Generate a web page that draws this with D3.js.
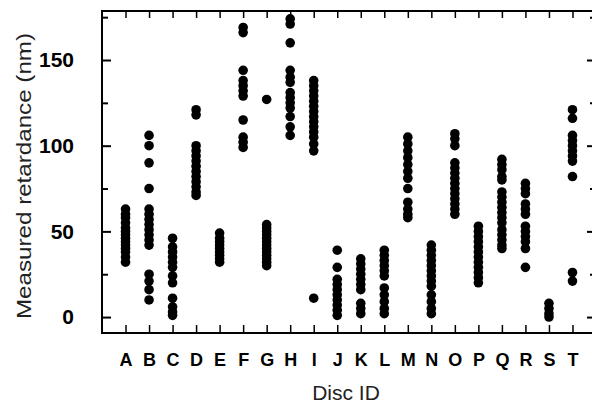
<!DOCTYPE html>
<html>
<head>
<meta charset="utf-8">
<script src="https://cdn.jsdelivr.net/npm/d3@7"></script>
<style>
  body { margin: 0; background: #fff; }
  svg { display: block; font-family: "Liberation Sans", Arial, sans-serif; }
</style>
</head>
<body>
<div id="chart"></div>
<script>
// Disc identifiers (x axis)
const discIds = ["A","B","C","D","E","F","G","H","I","J","K","L","M","N","O","P","Q","R","S","T"];

// Measured retardance (nm) per disc, same order as discIds
const retardanceByDisc = [
  [63, 60, 58, 55, 52, 50, 48, 46, 44, 42, 40, 38, 35, 32],                       // A
  [106, 100, 90, 75, 63, 60, 57, 54, 51, 48, 45, 42, 25, 21, 16, 10],              // B
  [46, 41, 38, 35, 32, 29, 24, 20, 11, 6, 3, 1],                                   // C
  [121, 118, 100, 97, 94, 91, 88, 85, 82, 79, 76, 73, 71],                         // D
  [49, 46, 44, 42, 40, 38, 36, 34, 32],                                            // E
  [169, 166, 144, 138, 135, 132, 129, 115, 105, 102, 99],                          // F
  [127, 54, 52, 50, 48, 46, 44, 42, 40, 38, 36, 34, 32, 30],                       // G
  [174, 171, 160, 144, 140, 137, 131, 128, 125, 122, 117, 111, 106],               // H
  [138, 135, 132, 129, 126, 123, 120, 117, 114, 111, 108, 105, 101, 97, 11],       // I
  [39, 29, 22, 19, 16, 13, 10, 7, 4, 1],                                           // J
  [34, 31, 28, 25, 22, 19, 16, 8, 5, 2],                                           // K
  [39, 36, 33, 30, 27, 24, 17, 13, 9, 5, 2],                                       // L
  [105, 101, 97, 93, 89, 85, 81, 75, 67, 63, 60, 58],                              // M
  [42, 39, 36, 33, 30, 27, 24, 21, 18, 13, 9, 5, 2],                               // N
  [107, 104, 100, 90, 87, 84, 81, 78, 75, 72, 69, 66, 63, 60],                     // O
  [53, 50, 47, 44, 41, 38, 35, 32, 29, 26, 23, 20],                                // P
  [92, 89, 86, 82, 80, 73, 70, 67, 64, 61, 58, 55, 51, 48, 45, 42, 40],            // Q
  [78, 75, 72, 66, 63, 60, 53, 50, 47, 44, 40, 29],                                // R
  [8, 5, 2, 0],                                                                    // S
  [121, 116, 106, 103, 100, 97, 94, 91, 82, 26, 21]                                // T
];

// Axis ticks
const yMajorTicks = [0, 50, 100, 150];
const yMinorTicks = [25, 75, 125, 175];
const yDomain = [-9.3, 178.6];

function drawChart() {
  const width = 592, height = 404;
  const left = 102, right = 596, top = 11, bottom = 333;

  const svg = d3.select("#chart").append("svg")
    .attr("width", width)
    .attr("height", height);

  const x = d3.scalePoint().domain(discIds).range([left, right]).padding(1);
  const y = d3.scaleLinear().domain(yDomain).range([bottom, top]);

  // flatten to points
  const points = [];
  discIds.forEach((id, i) => {
    retardanceByDisc[i].forEach(v => points.push({ id: id, value: v }));
  });

  // points
  svg.append("g").selectAll("circle")
    .data(points)
    .enter().append("circle")
    .attr("cx", d => x(d.id))
    .attr("cy", d => y(d.value))
    .attr("r", 4.8)
    .attr("fill", "#000");

  // frame
  svg.append("rect")
    .attr("x", left).attr("y", top)
    .attr("width", right - left).attr("height", bottom - top)
    .attr("fill", "none").attr("stroke", "#000").attr("stroke-width", 2);

  // bottom axis (ticks inward, labels)
  const xBottom = d3.axisBottom(x).tickSizeInner(-8).tickSizeOuter(0).tickPadding(20);
  const gxb = svg.append("g").attr("transform", `translate(0,${bottom})`).call(xBottom);
  gxb.select(".domain").remove();
  gxb.selectAll("line").attr("stroke-width", 1.5);
  gxb.selectAll("text")
    .attr("font-size", 18).attr("font-weight", "bold")
    .attr("fill", "#000")
    .attr("font-family", "Liberation Sans, Arial, sans-serif");

  // top axis (ticks inward, no labels)
  const xTop = d3.axisTop(x).tickSizeInner(-7).tickSizeOuter(0).tickFormat("");
  const gxt = svg.append("g").attr("transform", `translate(0,${top})`).call(xTop);
  gxt.select(".domain").remove();
  gxt.selectAll("line").attr("stroke-width", 1.5);

  // left axis major
  const yLeft = d3.axisLeft(y).tickValues(yMajorTicks).tickSizeInner(-9).tickSizeOuter(0).tickPadding(28);
  const gyl = svg.append("g").attr("transform", `translate(${left},0)`).call(yLeft);
  gyl.select(".domain").remove();
  gyl.selectAll("line").attr("stroke-width", 2);
  gyl.selectAll("text")
    .attr("font-size", 21).attr("font-weight", "bold")
    .attr("fill", "#000")
    .attr("font-family", "Liberation Sans, Arial, sans-serif");

  // left axis minor
  const yLeftMinor = d3.axisLeft(y).tickValues(yMinorTicks).tickSizeInner(-6).tickSizeOuter(0).tickFormat("");
  const gylm = svg.append("g").attr("transform", `translate(${left},0)`).call(yLeftMinor);
  gylm.select(".domain").remove();
  gylm.selectAll("line").attr("stroke-width", 2);

  // right axis (mostly off-canvas)
  const yRight = d3.axisRight(y).tickValues(yMajorTicks).tickSizeInner(-9).tickSizeOuter(0).tickFormat("");
  const gyr = svg.append("g").attr("transform", `translate(${right},0)`).call(yRight);
  gyr.select(".domain").remove();
  gyr.selectAll("line").attr("stroke-width", 2);
  const yRightMinor = d3.axisRight(y).tickValues(yMinorTicks).tickSizeInner(-6).tickSizeOuter(0).tickFormat("");
  const gyrm = svg.append("g").attr("transform", `translate(${right},0)`).call(yRightMinor);
  gyrm.select(".domain").remove();
  gyrm.selectAll("line").attr("stroke-width", 2);

  // axis titles
  svg.append("text")
    .attr("x", (left + right) / 2 - 3)
    .attr("y", 400)
    .attr("text-anchor", "middle")
    .attr("font-size", 21)
    .attr("fill", "#222")
    .text("Disc ID");

  svg.append("text")
    .attr("transform", `translate(31,176) rotate(-90)`)
    .attr("text-anchor", "middle")
    .attr("font-size", 21)
    .attr("fill", "#222")
    .attr("textLength", 286)
    .attr("lengthAdjust", "spacingAndGlyphs")
    .text("Measured retardance (nm)");
}

document.addEventListener("DOMContentLoaded", function() {
  drawChart();
});
</script>
</body>
</html>
